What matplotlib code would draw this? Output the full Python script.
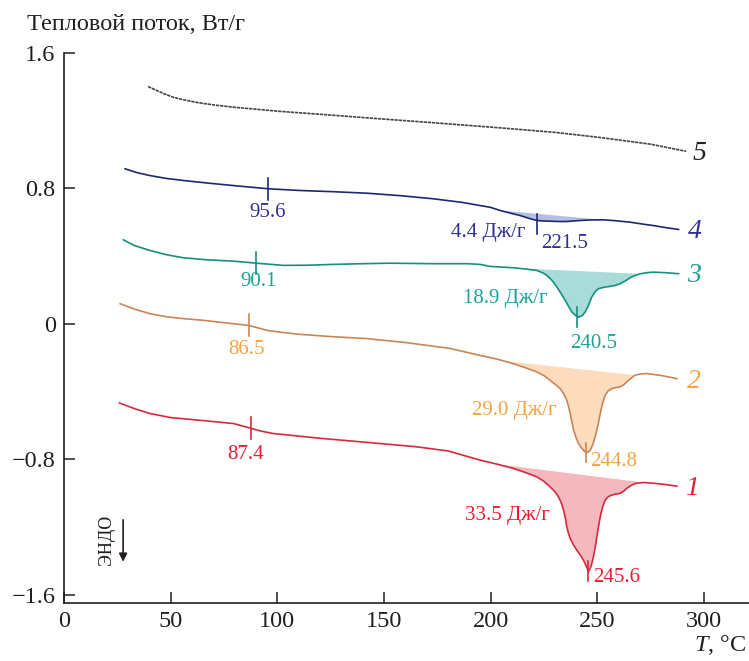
import numpy as np
import matplotlib
matplotlib.use('Agg')
import matplotlib.pyplot as plt

plt.rcParams['font.family'] = ['Liberation Serif', 'DejaVu Serif']
plt.rcParams['mathtext.fontset'] = 'custom'
plt.rcParams['mathtext.it'] = 'Liberation Serif:italic'
plt.rcParams['mathtext.rm'] = 'Liberation Serif'

# DSC curves, T (°C) vs heat flow (W/g)
t5 = [39.4, 43, 47, 51, 56, 62, 70, 79, 100, 125, 148, 175, 204, 230, 251, 275, 291.6]
q5 = [1.40, 1.38, 1.357, 1.338, 1.322, 1.307, 1.292, 1.279, 1.255, 1.232, 1.21, 1.185,
      1.157, 1.13, 1.10, 1.06, 1.018]

t4 = [28.6, 34, 40.3, 48, 55.9, 68, 79.4, 95.8, 110.6, 126, 141.9, 158, 173.1, 187, 195,
      199.7, 204.4, 209, 213.8, 218, 221.6, 224.5, 227.8, 231.5, 235.6, 241.9, 247, 252.8,
      259, 265.3, 270.5, 276.2, 282, 288]
q4 = [0.915, 0.893, 0.875, 0.858, 0.846, 0.83, 0.816, 0.797, 0.787, 0.78, 0.771, 0.756,
      0.738, 0.716, 0.698, 0.688, 0.669, 0.654, 0.639, 0.622, 0.61, 0.607, 0.606, 0.604,
      0.604, 0.61, 0.613, 0.614, 0.608, 0.60, 0.59, 0.58, 0.568, 0.557]

t3 = [27.8, 33, 40.3, 48, 55.9, 67, 79.4, 90.3, 102.8, 114, 126.3, 140, 152.8, 173.1,
      188.8, 195, 199.7, 210.6, 216, 221.6, 224.2, 226.3, 228.8, 231, 233, 234.9, 236.6,
      238, 239.7, 241.1, 242.7, 244.2, 245.8, 247.3, 248.9, 250.4, 253, 255.9, 258.3, 260.6,
      263, 265.3, 267.7, 270, 273, 276.2, 282, 288]
q3 = [0.496, 0.462, 0.433, 0.408, 0.39, 0.378, 0.37, 0.358, 0.345, 0.346, 0.351, 0.355,
      0.358, 0.355, 0.355, 0.351, 0.339, 0.331, 0.324, 0.315, 0.302, 0.286, 0.255, 0.217,
      0.178, 0.138, 0.1, 0.07, 0.05, 0.04, 0.047, 0.07, 0.11, 0.158, 0.19, 0.207, 0.216,
      0.221, 0.227, 0.237, 0.253, 0.272, 0.286, 0.295, 0.302, 0.305, 0.302, 0.296]

t2 = [26.3, 33, 40.3, 48, 55.9, 66, 76.3, 86.4, 90.5, 95, 102, 110.6, 125, 141.9, 160,
      180.9, 195, 203, 210.6, 216, 221.6, 225, 227.8, 230.3, 232.5, 234.2, 235.6, 236.5,
      237.2, 238, 238.8, 240, 241.1, 242.7, 244.2, 245.5, 246.6, 247.8, 248.9, 250.2, 251.3,
      252.4, 253.6, 255, 256.7, 258.7, 260.6, 262.2, 263.7, 265.6, 267.6, 270, 273.1, 280,
      287.2]
q2 = [0.119, 0.087, 0.06, 0.042, 0.031, 0.02, 0.005, -0.009, -0.022, -0.038, -0.05,
      -0.062, -0.075, -0.087, -0.11, -0.145, -0.186, -0.208, -0.235, -0.258, -0.284, -0.306,
      -0.333, -0.358, -0.382, -0.413, -0.451, -0.49, -0.529, -0.578, -0.628, -0.672, -0.706,
      -0.735, -0.755, -0.758, -0.745, -0.712, -0.667, -0.6, -0.529, -0.468, -0.421, -0.395,
      -0.382, -0.376, -0.372, -0.36, -0.343, -0.322, -0.303, -0.296, -0.293, -0.305, -0.323]

t1 = [26, 33, 40.3, 50, 63.8, 79.4, 86.4, 92, 98, 120, 148, 165, 180, 195, 203, 210.6,
      216, 221.6, 225, 227.8, 230, 231.7, 233, 234.1, 235, 235.6, 236.4, 237.2, 238.8,
      240.3, 242, 243.4, 244.6, 245.8, 247, 248.1, 249, 249.7, 250.5, 251.3, 252.4, 253.6,
      255, 256.7, 258.7, 260.6, 262.2, 263.7, 265.6, 267.6, 271.5, 276, 282, 287.2]
q1 = [-0.467, -0.50, -0.529, -0.553, -0.569, -0.588, -0.612, -0.632, -0.647, -0.675,
      -0.706, -0.725, -0.75, -0.804, -0.828, -0.853, -0.876, -0.903, -0.93, -0.962, -0.99,
      -1.02, -1.055, -1.099, -1.15, -1.197, -1.236, -1.266, -1.305, -1.335, -1.365, -1.394,
      -1.425, -1.462, -1.43, -1.374, -1.315, -1.256, -1.195, -1.138, -1.08, -1.04, -1.02,
      -1.01, -1.004, -1.0, -0.988, -0.971, -0.955, -0.942, -0.936, -0.94, -0.948, -0.958]

# glass transition / melting peak temperatures and enthalpies
tg = {4: 95.6, 3: 90.1, 2: 86.5, 1: 87.4}
tm = {4: 221.5, 3: 240.5, 2: 244.8, 1: 245.6}
dh = {4: '4.4 Дж/г', 3: '18.9 Дж/г', 2: '29.0 Дж/г', 1: '33.5 Дж/г'}
peak_range = {4: (204.4, 252.8), 3: (213, 270), 2: (206, 267.6), 1: (203, 271.5)}

curves = {5: (t5, q5), 4: (t4, q4), 3: (t3, q3), 2: (t2, q2), 1: (t1, q1)}
line_col = {5: '#444444', 4: '#1c2a6e', 3: '#15907f', 2: '#c98558', 1: '#d42a3e'}
text_col = {5: '#231f20', 4: '#2e3192', 3: '#1aa396', 2: '#f5a340', 1: '#ec1c2e'}
fill_col = {4: '#b4bde2', 3: '#a9dbd8', 2: '#fcdcbd', 1: '#f5b8be'}

fig = plt.figure(figsize=(7.49, 6.61), dpi=100)
ax = fig.add_axes([64 / 749, 1 - 603 / 661, (749 - 64) / 749, (603 - 52.7) / 661])

for k, (t, q) in curves.items():
    t = np.array(t)
    q = np.array(q)
    if k == 5:
        ax.plot(t, q, color=line_col[k], lw=1.2, ls=(0, (2.0, 0.5)))
    else:
        ax.plot(t, q, color=line_col[k], lw=1.2)
    if k in peak_range:
        a, b = peak_range[k]
        m = (t > a) & (t < b)
        px = np.concatenate([[a], t[m], [b]])
        py = np.concatenate([[np.interp(a, t, q)], q[m], [np.interp(b, t, q)]])
        ax.fill(px, py, color=fill_col[k], lw=0, zorder=1)
        # ticks on the curve
        yg = np.interp(tg[k], t, q)
        ax.plot([tg[k], tg[k]], [yg - 0.065, yg + 0.065], color=line_col[k], lw=1.2)
        ym = np.interp(tm[k], t, q)
        if k == 4:
            ax.plot([tm[k], tm[k]], [ym - 0.08, ym + 0.04], color=line_col[k], lw=1.2)
        else:
            ax.plot([tm[k], tm[k]], [ym - 0.06, ym + 0.055], color=line_col[k], lw=1.2)

fs = 15
# glass transition labels
ax.text(95.2, 0.657, '95.6', color=text_col[4], fontsize=fs, ha='center', va='center')
ax.text(91, 0.25, '90.1', color=text_col[3], fontsize=fs, ha='center', va='center')
ax.text(85.3, -0.15, '86.5', color=text_col[2], fontsize=fs, ha='center', va='center')
ax.text(85.3, -0.769, '87.4', color=text_col[1], fontsize=fs, ha='center', va='center')

# melting peak labels
ax.text(216, 0.541, dh[4], color=text_col[4], fontsize=fs, ha='right', va='center')
ax.text(223.6, 0.473, '221.5', color=text_col[4], fontsize=fs, ha='left', va='center')
ax.text(226.4, 0.150, dh[3], color=text_col[3], fontsize=fs, ha='right', va='center')
ax.text(248, -0.115, '240.5', color=text_col[3], fontsize=fs, ha='center', va='center')
ax.text(231, -0.51, dh[2], color=text_col[2], fontsize=fs, ha='right', va='center')
ax.text(246.6, -0.814, '244.8', color=text_col[2], fontsize=fs, ha='left', va='center')
ax.text(227.8, -1.128, dh[1], color=text_col[1], fontsize=fs, ha='right', va='center')
ax.text(248, -1.496, '245.6', color=text_col[1], fontsize=fs, ha='left', va='center')

# curve numbers
num_pos = {5: (297.7, 1.006), 4: (295.5, 0.547), 3: (295, 0.286), 2: (295, -0.343), 1: (294.5, -0.971)}
for k, (x, y) in num_pos.items():
    ax.text(x, y, str(k), color=text_col[k], fontsize=20, style='italic',
            ha='center', va='center')

# endo arrow
ax.text(19.7, -1.276, 'ЭНДО', fontsize=13, rotation=90, ha='center', va='center', color='#231f20')
ax.annotate('', xy=(27.7, -1.42), xytext=(27.7, -1.14),
            arrowprops=dict(arrowstyle='-|>', color='#231f20', lw=1.2, mutation_scale=12))

ax.set_xlim(0, 321)
ax.set_ylim(-1.647, 1.6)
ax.set_xticks([0, 50, 100, 150, 200, 250, 300])
ax.set_yticks([-1.6, -0.8, 0, 0.8, 1.6])
ax.set_yticklabels(['\u22121.6', '\u22120.8', '0', '0.8', '1.6'])
ax.tick_params(direction='in', length=8, width=1.1, labelsize=17.5, colors='#231f20', pad=6)
ax.spines['top'].set_visible(False)
ax.spines['right'].set_visible(False)
for s in ['left', 'bottom']:
    ax.spines[s].set_linewidth(1.2)
    ax.spines[s].set_color('#231f20')

fig.text(27 / 749, 1 - 25 / 661, 'Тепловой поток, Вт/г', fontsize=17.5, ha='left', va='center',
         color='#231f20')
fig.text(746 / 749, 1 - 645 / 661, r'$T$, °C', fontsize=17.5, ha='right', va='center',
         color='#231f20')

fig.savefig('out.png', dpi=100)
